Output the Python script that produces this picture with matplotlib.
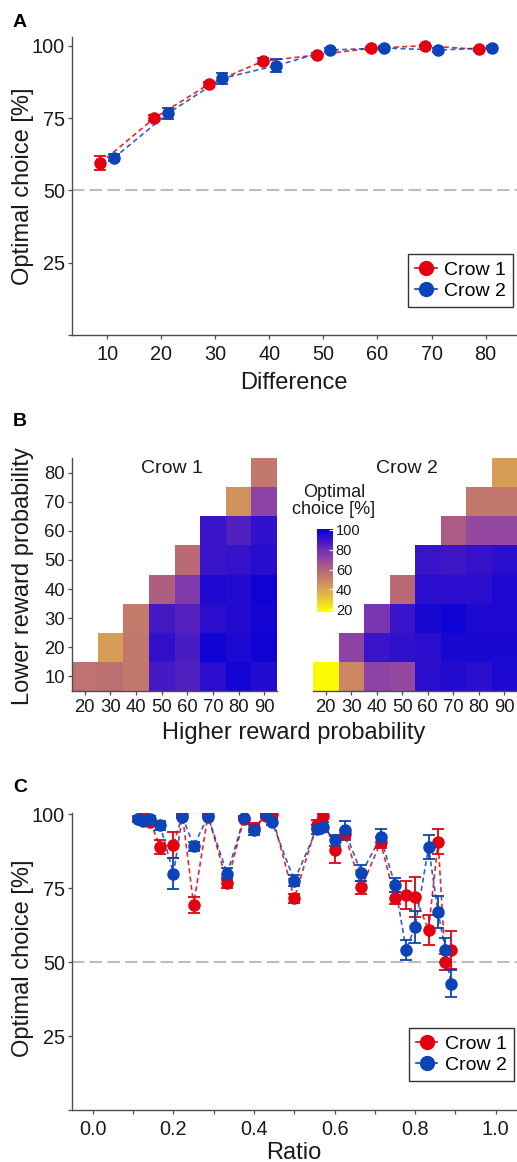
import numpy as np
import matplotlib
matplotlib.use("Agg")
import matplotlib.pyplot as plt
from matplotlib.colors import LinearSegmentedColormap, Normalize
from matplotlib.lines import Line2D

plt.rcParams['font.family'] = ['Liberation Sans', 'DejaVu Sans']

# --- DATA ---
# Panel A: optimal choice by difference in reward probability
difference = [10, 20, 30, 40, 50, 60, 70, 80]
crow1_diff = [59.4, 75.0, 86.6, 94.6, 96.8, 99.1, 100.0, 98.7]
crow1_diff_err = [2.5, 1.0, 1.0, 1.0, 0.8, 0.5, 0.4, 0.6]
crow2_diff = [61.2, 76.6, 88.7, 93.1, 98.5, 99.2, 98.5, 99.3]
crow2_diff_err = [1.2, 1.8, 1.8, 2.2, 0.8, 0.6, 0.7, 0.5]

# Panel B: heatmaps (rows = lower prob 10..80, cols = higher prob 20..90)
higher_prob = [20, 30, 40, 50, 60, 70, 80, 90]
lower_prob = [10, 20, 30, 40, 50, 60, 70, 80]
nan = np.nan
crow1_heat = [
    [55, 56, 53, 88, 86, 93, 98, 95],
    [nan, 42, 53, 92, 87, 99, 96, 99],
    [nan, nan, 52, 88, 85, 93, 95, 98],
    [nan, nan, nan, 62, 76, 96, 95, 99],
    [nan, nan, nan, nan, 58, 90, 91, 94],
    [nan, nan, nan, nan, nan, 90, 86, 92],
    [nan, nan, nan, nan, nan, nan, 45, 72],
    [nan, nan, nan, nan, nan, nan, nan, 53],
]
crow2_heat = [
    [18, 48, 72, 70, 93, 95, 93, 96],
    [nan, 72, 90, 92, 93, 97, 97, 97],
    [nan, nan, 78, 90, 97, 99, 96, 96],
    [nan, nan, nan, 58, 93, 93, 93, 96],
    [nan, nan, nan, nan, 90, 89, 91, 93],
    [nan, nan, nan, nan, nan, 63, 70, 70],
    [nan, nan, nan, nan, nan, nan, 53, 53],
    [nan, nan, nan, nan, nan, nan, nan, 42],
]
cbar_ticks = [20, 40, 60, 80, 100]
cmap_values = [17, 30, 40, 50, 60, 70, 80, 90, 101]
cmap_colors = ['#FFFF00', '#EAC63A', '#D8A452', '#C88068', '#B56478',
               '#9448A0', '#7030B4', '#3A14C8', '#0600D8']

# Panel C: optimal choice by ratio (lower / higher)
ratio = [1/9, 1/8, 1/7, 1/6, 1/5, 2/9, 1/4, 2/7, 1/3, 3/8, 2/5, 3/7, 4/9,
         1/2, 5/9, 4/7, 3/5, 5/8, 2/3, 5/7, 3/4, 7/9, 4/5, 5/6, 6/7, 7/8, 8/9]
crow1_ratio = [98.5, 99.7, 97.5, 89.0, 89.7, 99.8, 69.5, 99.8, 76.8, 98.6, 95.5,
               99.5, 100.0, 71.6, 96.6, 99.4, 88.1, 93.4, 75.3, 90.6, 71.6, 72.8,
               72.2, 61.0, 90.8, 50.2, 54.2]
crow1_ratio_err = [0.8, 0.5, 1.0, 2.3, 4.5, 0.5, 2.7, 0.5, 1.8, 0.5, 1.5,
                   0.6, 0.4, 1.5, 1.5, 0.6, 4.5, 1.5, 2.3, 1.8, 2.0, 4.7,
                   6.8, 5.0, 4.2, 2.7, 6.5]
crow2_ratio = [98.5, 97.8, 98.6, 96.4, 80.0, 99.3, 89.3, 99.3, 79.9, 98.9, 94.8,
               100.0, 97.5, 77.6, 95.0, 95.9, 91.2, 94.6, 80.1, 92.3, 76.2, 54.2,
               62.0, 88.9, 66.9, 54.1, 42.8]
crow2_ratio_err = [1.0, 1.0, 0.8, 1.5, 5.2, 0.5, 1.5, 0.5, 2.0, 0.5, 1.8,
                   0.4, 1.2, 1.8, 1.5, 1.5, 2.0, 3.2, 2.7, 2.8, 2.3, 3.4,
                   5.4, 4.0, 5.4, 4.0, 4.7]

# --- STYLE ---
RED = '#E3000F'
BLUE = '#0A44B8'
AXIS_COL = '#4D4D4D'
TEXT_COL = '#1A1A1A'
W, H = 517, 1162


def fx(px):
    return px / W


def fy(py):
    return 1 - py / H


def style_axes(ax, labelsize=14.3):
    for s in ['top', 'right']:
        ax.spines[s].set_visible(False)
    for s in ['left', 'bottom']:
        ax.spines[s].set_color(AXIS_COL)
        ax.spines[s].set_linewidth(1.0)
    ax.tick_params(axis='both', colors=AXIS_COL, labelcolor=TEXT_COL,
                   labelsize=labelsize, length=3, width=0.9)
    ax.tick_params(axis='y', pad=2)
    ax.tick_params(axis='x', pad=4)


def draw_series(ax, x, y, err, color, label):
    ax.plot(x, y, linestyle=(0, (3, 2)), color=color, lw=1.2, alpha=0.85, zorder=2)
    ax.errorbar(x, y, yerr=err, fmt='o', color=color, ms=8, capsize=4,
                elinewidth=1.3, capthick=1.3, zorder=3, label=label)


def add_legend(ax, anchor):
    handles = [Line2D([0], [0], color=RED, marker='o', ms=10, lw=1.2),
               Line2D([0], [0], color=BLUE, marker='o', ms=10, lw=1.2)]
    leg = ax.legend(handles, ['Crow 1', 'Crow 2'], loc='lower right',
                    bbox_to_anchor=anchor, borderaxespad=0, fontsize=14,
                    handlelength=1.1, handletextpad=0.4, borderpad=0.35,
                    labelspacing=0.2, fancybox=False, framealpha=1)
    leg.get_frame().set_edgecolor('#333333')
    leg.get_frame().set_linewidth(1.0)


fig = plt.figure(figsize=(W / 100, H / 100), dpi=100)

# --- PANEL A ---
axA = fig.add_axes([fx(72), fy(335), fx(445), 298 / H])
style_axes(axA)
axA.axhline(50, color='#BDBDBD', lw=1.5, linestyle=(0, (6, 2.5)), zorder=1)
dodge = 1.25
draw_series(axA, [d - dodge for d in difference], crow1_diff, crow1_diff_err, RED, 'Crow 1')
draw_series(axA, [d + dodge for d in difference], crow2_diff, crow2_diff_err, BLUE, 'Crow 2')
axA.set_xlim(3.5, 85.8)
axA.set_ylim(0, 103)
axA.set_xticks(difference)
axA.set_yticks([0, 25, 50, 75, 100], labels=['', '25', '50', '75', '100'])
add_legend(axA, (0.991, 0.094))
fig.text(fx(13), fy(27), 'A', fontsize=14, fontweight='bold', ha='left', va='baseline')
fig.text(fx(23), fy(186), 'Optimal choice [%]', rotation=90, fontsize=17,
         ha='center', va='center', color=TEXT_COL)
fig.text(fx(294), fy(389), 'Difference', fontsize=17, ha='center', va='baseline',
         color=TEXT_COL)

# --- PANEL B ---
cmap = LinearSegmentedColormap.from_list(
    'choice', [((v - cmap_values[0]) / (cmap_values[-1] - cmap_values[0]), c)
               for v, c in zip(cmap_values, cmap_colors)])
norm = Normalize(vmin=cmap_values[0], vmax=cmap_values[-1])
x_edges = np.append(np.array(higher_prob) - 5, higher_prob[-1] + 5)
y_edges = np.append(np.array(lower_prob) - 5, lower_prob[-1] + 5)

axB1 = fig.add_axes([fx(72), fy(691), fx(205), 233 / H])
axB2 = fig.add_axes([fx(313), fy(691), fx(204), 233 / H])
mesh = None
for ax, data, title, tx in [(axB1, crow1_heat, 'Crow 1', 172),
                            (axB2, crow2_heat, 'Crow 2', 407)]:
    style_axes(ax, labelsize=13.3)
    mesh = ax.pcolormesh(x_edges, y_edges, np.ma.masked_invalid(np.array(data, dtype=float)),
                         cmap=cmap, norm=norm)
    ax.set_xlim(x_edges[0], x_edges[-1])
    ax.set_ylim(y_edges[0], y_edges[-1])
    ax.set_xticks(higher_prob)
    ax.set_yticks(lower_prob)
    ax.tick_params(axis='x', pad=3)
    fig.text(fx(tx), fy(473), title, fontsize=14, ha='center', va='baseline',
             color=TEXT_COL)
axB2.spines['left'].set_visible(False)
axB2.tick_params(axis='y', left=False, labelleft=False)

cax = fig.add_axes([fx(317), fy(612), fx(16), 83 / H])
cb = fig.colorbar(mesh, cax=cax, ticks=cbar_ticks)
cb.outline.set_visible(False)
cax.tick_params(direction='in', color='white', length=3, width=0.8,
                labelsize=10.5, labelcolor=TEXT_COL, pad=2)
fig.text(fx(334), fy(501), 'Optimal\nchoice [%]', fontsize=13, ha='center',
         va='center', linespacing=1.05, color=TEXT_COL)

fig.text(fx(13), fy(426), 'B', fontsize=14, fontweight='bold', ha='left', va='baseline')
fig.text(fx(23), fy(576), 'Lower reward probability', rotation=90, fontsize=17,
         ha='center', va='center', color=TEXT_COL)
fig.text(fx(294), fy(739), 'Higher reward probability', fontsize=17, ha='center',
         va='baseline', color=TEXT_COL)

# --- PANEL C ---
axC = fig.add_axes([fx(72), fy(1110), fx(445), 297 / H])
style_axes(axC)
axC.axhline(50, color='#BDBDBD', lw=1.5, linestyle=(0, (6, 2.5)), zorder=1)
draw_series(axC, ratio, crow1_ratio, crow1_ratio_err, RED, 'Crow 1')
draw_series(axC, ratio, crow2_ratio, crow2_ratio_err, BLUE, 'Crow 2')
axC.set_xlim(-0.052, 1.053)
axC.set_ylim(0, 100.5)
axC.set_xticks([0.0, 0.2, 0.4, 0.6, 0.8, 1.0], labels=['0.0', '0.2', '0.4', '0.6', '0.8', '1.0'])
axC.set_xticks([0.1, 0.3, 0.5, 0.7, 0.9], minor=True)
axC.tick_params(axis='x', which='minor', length=3, width=0.9, color=AXIS_COL)
axC.set_yticks([0, 25, 50, 75, 100], labels=['', '25', '50', '75', '100'])
add_legend(axC, (0.993, 0.098))
fig.text(fx(13), fy(792), 'C', fontsize=14, fontweight='bold', ha='left', va='baseline')
fig.text(fx(23), fy(958), 'Optimal choice [%]', rotation=90, fontsize=17,
         ha='center', va='center', color=TEXT_COL)
fig.text(fx(294), fy(1159), 'Ratio', fontsize=17, ha='center', va='baseline',
         color=TEXT_COL)

fig.savefig('out.png', dpi=100)
